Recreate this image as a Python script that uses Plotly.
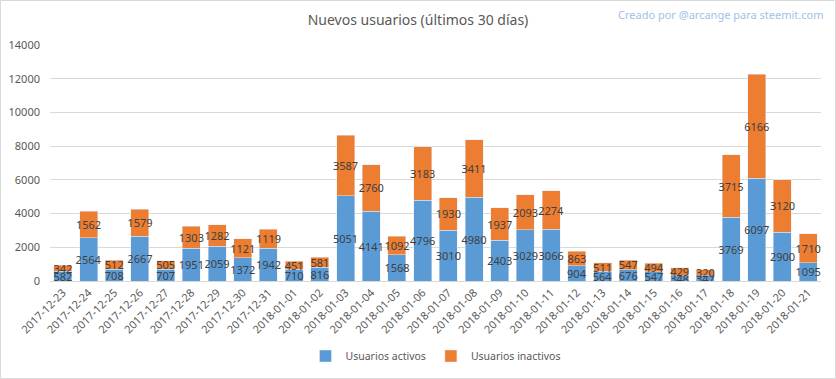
import plotly.graph_objects as go

dates = ["2017-12-23", "2017-12-24", "2017-12-25", "2017-12-26", "2017-12-27", "2017-12-28",
         "2017-12-29", "2017-12-30", "2017-12-31", "2018-01-01", "2018-01-02", "2018-01-03",
         "2018-01-04", "2018-01-05", "2018-01-06", "2018-01-07", "2018-01-08", "2018-01-09",
         "2018-01-10", "2018-01-11", "2018-01-12", "2018-01-13", "2018-01-14", "2018-01-15",
         "2018-01-16", "2018-01-17", "2018-01-18", "2018-01-19", "2018-01-20", "2018-01-21"]
activos = [582, 2564, 708, 2667, 707, 1951, 2059, 1372, 1942, 710, 816, 5051, 4141, 1568, 4796,
           3010, 4980, 2403, 3029, 3066, 904, 564, 676, 547, 348, 347, 3769, 6097, 2900, 1095]
inactivos = [342, 1562, 512, 1579, 505, 1303, 1282, 1121, 1119, 451, 581, 3587, 2760, 1092, 3183,
             1930, 3411, 1937, 2093, 2274, 863, 511, 547, 494, 429, 320, 3715, 6166, 3120, 1710]
y_ticks = [0, 2000, 4000, 6000, 8000, 10000, 12000, 14000]

FONT = "Noto Sans"
GREY = "#595959"

fig = go.Figure()
fig.add_trace(go.Bar(x=dates, y=activos, name="Usuarios activos", marker_color="#5B9BD5",
                     text=activos, textposition="inside", insidetextanchor="middle",
                     textangle=0, textfont=dict(color="#404040", size=11, family=FONT)))
fig.add_trace(go.Bar(x=dates, y=inactivos, name="Usuarios inactivos", marker_color="#ED7D31",
                     text=inactivos, textposition="inside", insidetextanchor="middle",
                     textangle=0, textfont=dict(color="#404040", size=11, family=FONT)))

L, R, T, B = 50, 15, 45, 98
W, H = 836, 379
pw, ph = W - L - R, H - T - B

fig.update_layout(
    barmode="stack",
    width=W, height=H,
    margin=dict(l=L, r=R, t=T, b=B, autoexpand=False),
    paper_bgcolor="white", plot_bgcolor="white",
    font=dict(family=FONT, color=GREY, size=11),
    bargap=0.3,
    uniformtext=dict(minsize=11, mode="show"),
    title=dict(text="Nuevos usuarios (últimos 30 días)", x=0.5, xanchor="center",
               y=1 - 20 / H, yanchor="middle", font=dict(size=14, color=GREY, family=FONT)),
    xaxis=dict(type="category", tickangle=-45, tickfont=dict(size=11, color=GREY), showgrid=False,
               showline=True, linecolor="#d9d9d9", ticks=""),
    yaxis=dict(range=[0, 14000], tickvals=y_ticks, tickformat="d", showgrid=True,
               gridcolor="#d9d9d9", zeroline=False, tickfont=dict(size=11, color=GREY),
               ticks="", showline=False, ticklabelstandoff=9),
    legend=dict(orientation="h", x=0.5, xanchor="center", y=-(356 - (T + ph)) / ph,
                yanchor="middle", traceorder="normal", itemwidth=30,
                font=dict(size=10.5, color=GREY)),
    annotations=[dict(text="Creado por @arcange para steemit.com", xref="paper", yref="paper",
                      x=(825 - L) / pw, y=1 + (T - 15) / ph, xanchor="right", yanchor="middle",
                      showarrow=False, font=dict(size=11, color="#9DC3E6", family=FONT))],
    shapes=[dict(type="rect", xref="paper", yref="paper",
                 x0=-(L - 0.5) / pw, x1=(W - 0.5 - L) / pw,
                 y0=-(H - 0.5 - T - ph) / ph, y1=1 + (T - 0.5) / ph,
                 line=dict(color="#d9d9d9", width=1), layer="below")],
)

fig.write_html("out.html", config={"displayModeBar": False},
               post_script="document.body.style.margin='0';document.body.style.overflow='hidden';")
